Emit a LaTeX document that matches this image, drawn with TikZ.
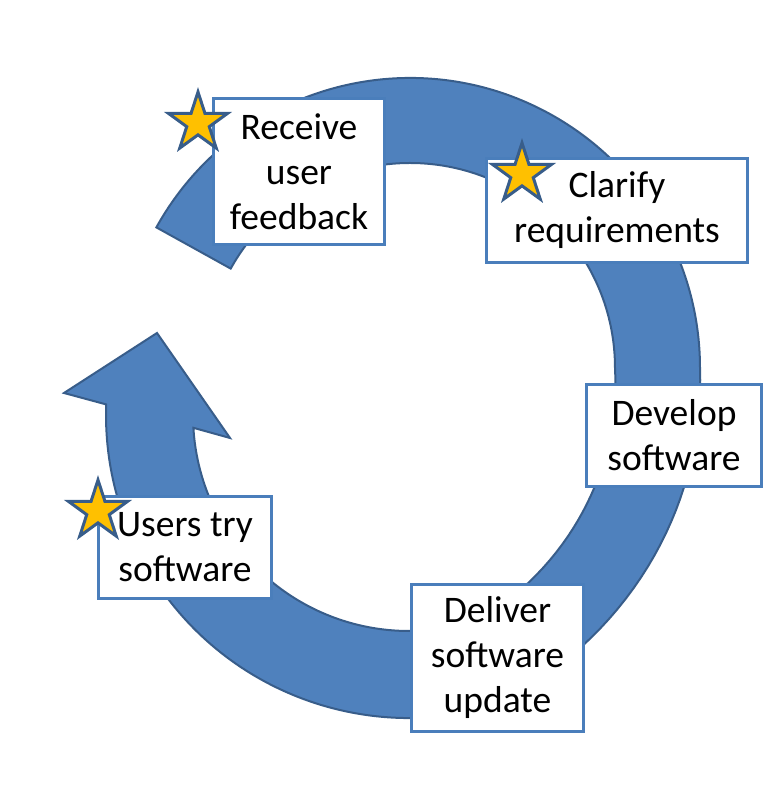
\documentclass[tikz,border=0pt]{standalone}
\usepackage{fontspec}
\setmainfont{Carlito}
\usetikzlibrary{shapes.geometric}
\definecolor{ringblue}{RGB}{79,129,189}
\definecolor{ringedge}{RGB}{56,93,138}
\definecolor{boxblue}{RGB}{74,126,187}
\definecolor{gold}{RGB}{255,192,0}

\begin{document}
\begin{tikzpicture}[
            x=1pt, y=1pt,
            ring/.style={fill=ringblue, draw=ringedge, line width=2pt},
            box/.style={draw=boxblue, fill=white, line width=3pt, inner sep=0pt, align=center, font=\fontsize{37.5}{45}\selectfont},
            badge/.style={star, star points=5, star point ratio=2.618, minimum size=62pt, inner sep=0pt, fill=gold, draw=ringedge, line width=3pt}
        ]
            \useasboundingbox (0,0) rectangle (776,790);
            \coordinate (upper) at (410,422);
            \coordinate (lower) at (409,375);

            % upper arrow, its head lies under the deliver box
            \filldraw[ring, shift={(upper)}]
                (151:290) arc[start angle=151, end angle=0, radius=290]
                -- plot[domain=0:-68, samples=30, variable=\t] ({\t}:{290+0.2*abs(\t)+0.0075*(\t)*(\t)})
                -- (-68:368) -- (-80:295)
                -- plot[domain=-68:0, samples=30, variable=\t] ({\t}:{205+0.2*abs(\t)+0.0075*(\t)*(\t)})
                arc[start angle=0, end angle=151, radius=205] -- cycle;

            % lower arrow
            \filldraw[ring, shift={(lower)}]
                (-62:303) arc[start angle=-62, end angle=-182, radius=303]
                -- (-345,22) -- (-252,82) -- (-179,-23)
                -- (-176.6:216) arc[start angle=-176.6, end angle=-62, radius=216] -- cycle;

            \node[box, minimum width=171, minimum height=146] (receive) at (299,618.5) {Receive\\user\\feedback};
            \node[box, minimum width=261, minimum height=104] (clarify) at (617,579.5) {Clarify\\requirements};
            \node[box, minimum width=175, minimum height=102] (develop) at (674,354.5) {Develop\\software};
            \node[box, minimum width=172, minimum height=147] (deliver) at (497.5,132) {Deliver\\software\\update};
            \node[box, minimum width=173, minimum height=102] (usertry) at (185,242.5) {Users try\\software};

            \node[badge] (receivestar) at (198,667) {};
            \node[badge] (clarifystar) at (522,616) {};
            \node[badge] (usertrystar) at (98,279) {};
        \end{tikzpicture}
\end{document}
